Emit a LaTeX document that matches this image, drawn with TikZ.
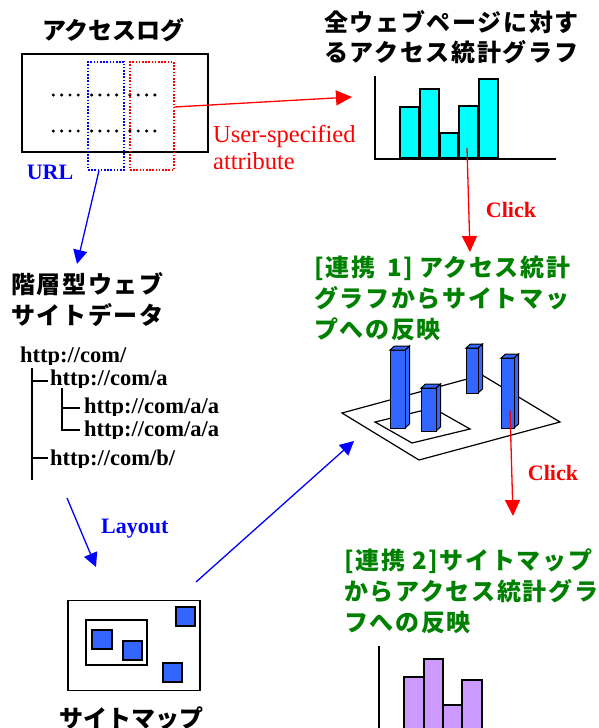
\documentclass[tikz,border=0pt]{standalone}
\usepackage{fontspec}
\usetikzlibrary{arrows.meta}
\setmainfont{Liberation Serif}
\newfontfamily\jpfont[LetterSpace=7]{Noto Sans CJK JP}
\newfontfamily\jpfontn[LetterSpace=0]{Noto Sans CJK JP}
\definecolor{myred}{RGB}{255,0,0}
\definecolor{myblue}{RGB}{0,0,255}
\definecolor{mygreen}{RGB}{0,128,0}
\definecolor{barcyan}{RGB}{0,255,255}
\definecolor{barblue}{RGB}{51,102,255}
\definecolor{barpurple}{RGB}{204,153,255}
\tikzset{
  jp/.style={font=\jpfont\bfseries\fontsize{24}{31}\selectfont, inner sep=0pt, anchor=base west},
  jpn/.style={font=\jpfontn\bfseries\fontsize{24}{31}\selectfont, inner sep=0pt, anchor=base},
  lat/.style={font=\bfseries\fontsize{22}{26}\selectfont, inner sep=0pt, anchor=base},
  attrtext/.style={font=\fontsize{24.5}{27}\selectfont, text=myred, inner sep=0pt, anchor=base west},
  urltext/.style={font=\bfseries\fontsize{22.5}{26}\selectfont, inner sep=0pt, anchor=base west},
  frame/.style={draw=black, line width=1.3pt, inner sep=0pt},
  redarrow/.style={draw=myred, line width=1.3pt, -{Triangle[length=16pt,width=15pt]}},
  bluearrow/.style={draw=myblue, line width=1.3pt, -{Triangle[length=14pt,width=14pt]}},
  histbar/.style={draw=black, line width=1.2pt},
  treeline/.style={draw=black, line width=1.3pt},
  sq/.style={draw=black, line width=1.2pt, fill=barblue},
  cubeface/.style={draw=black, line width=1pt, fill=barblue},
}
\newcommand\cubebar[5]{%
  \filldraw[cubeface] (#2,#3) -- (#2+4.5,#3-4) -- (#2+4.5,#4-4) -- (#2,#4) -- cycle;
  \filldraw[cubeface] (#1,#3) -- (#1+4.5,#3-4) -- (#2+4.5,#3-4) -- (#2,#3) -- cycle;
  \node[cubeface, inner sep=0pt, minimum width={(#2-#1)*1pt}, minimum height={(#4-#3)*1pt}] (#5) at ({(#1+#2)/2},{(#3+#4)/2}) {};
}
\begin{document}
\begin{tikzpicture}[x=1pt,y=-1pt]
\useasboundingbox (0,0) rectangle (599,728);
\clip (0,0) rectangle (599,728);

% ---------- access log ----------
\node[jpn] (logt) at (113.5,39) {アクセスログ};
\node[frame, minimum width=186pt, minimum height=98pt] (log) at (115,103) {};
\foreach \g in {0,1,2}{
  \foreach \d in {0,1,2,3}{
    \fill ({53.3+38.3*\g+8.33*\d},95) circle (1.7pt);
    \fill ({53.3+38.3*\g+8.33*\d},131) circle (1.7pt);
  }
}
\node[draw=myblue, line width=1.3pt, dash pattern=on 1.6pt off 1.6pt, inner sep=0pt,
      minimum width=36pt, minimum height=108pt] (urlcol) at (106,116) {};
\node[draw=myred, line width=1.3pt, dash pattern=on 1.6pt off 1.6pt, inner sep=0pt,
      minimum width=44pt, minimum height=108pt] (attr) at (152,116) {};
\node[lat, text=myblue] (urllbl) at (50,179) {URL};
\node[attrtext] (attr1) at (213,142) {User-specified};
\node[attrtext] (attr2) at (213,169) {attribute};

% ---------- histogram 1 ----------
\node[jp] (t1a) at (324,31.4) {全ウェブページに対す};
\node[jp] (t1b) at (324,61.4) {るアクセス統計グラフ};
\draw[histbar, fill=barcyan] (400,107) rectangle (419,158);
\draw[histbar, fill=barcyan] (420,89) rectangle (439,158);
\draw[histbar, fill=barcyan] (440,133) rectangle (458,158);
\draw[histbar, fill=barcyan] (459,106) rectangle (478,158);
\draw[histbar, fill=barcyan] (479,79) rectangle (498,158);
\draw[line width=1.3pt] (375,76) -- (375,159) -- (556,159);
\coordinate (h1in) at (352,97);
\draw[redarrow] ([yshift=9pt]attr.east) -- (h1in);

% ---------- click 1 ----------
\coordinate (c1s) at (467,148);
\coordinate (c1e) at (470,252);
\draw[redarrow] (c1s) -- (c1e);
\node[lat, text=myred] (click1) at (511,217) {Click};

% ---------- hierarchical web site data ----------
\coordinate (hierin) at (77,264);
\draw[bluearrow] ([xshift=-7pt]urlcol.south) -- (hierin);
\node[jp] (h1) at (11,293.4) {階層型ウェブ};
\node[jp] (h2) at (11,324.4) {サイトデータ};
\begin{scope}\clip (0,340) rectangle (300,364);
\node[urltext] (u1) at (20,362) {http://com/};\end{scope}
\begin{scope}\clip (0,366) rectangle (300,387.7);
\node[urltext] (u2) at (50,385.7) {http://com/a};\end{scope}
\begin{scope}\clip (0,392) rectangle (300,415);
\node[urltext] (u3) at (84,413) {http://com/a/a};\end{scope}
\begin{scope}\clip (0,416) rectangle (300,438.7);
\node[urltext] (u4) at (84,436.7) {http://com/a/a};\end{scope}
\begin{scope}\clip (0,444) rectangle (300,467);
\node[urltext] (u5) at (50,465) {http://com/b/};\end{scope}
\draw[treeline] (32,368) -- (32,480);
\draw[treeline] (32,381) -- (48,381);
\draw[treeline] (32,458) -- (48,458);
\draw[treeline] (62,388) -- (62,430) -- (80,430);
\draw[treeline] (62,408) -- (80,408);

% ---------- layout ----------
\coordinate (lays) at (67,498);
\coordinate (laye) at (96,567);
\draw[bluearrow] (lays) -- (laye);
\node[lat, text=myblue, anchor=base west] (layout) at (101,533) {Layout};

% ---------- site map ----------
\node[frame, minimum width=132pt, minimum height=90pt] (smap) at (134,645.5) {};
\node[draw=black, line width=1.1pt, inner sep=0pt, minimum width=61pt, minimum height=45pt] (grp) at (116.5,642.5) {};
\draw[sq] (92,630) rectangle (112,649);
\draw[sq] (123,641) rectangle (142,660);
\draw[sq] (176,607) rectangle (195,626);
\draw[sq] (163,663) rectangle (182,682);
\node[jpn] (smapt) at (131.5,727) {サイトマップ};

% ---------- link 1 : 3D map ----------
\node[jp, text=mygreen] (g1a) at (314,276.4) {[連携\hspace{12pt}1]\hspace{6pt}アクセス統計};
\node[jp, text=mygreen] (g1b) at (314,307.4) {グラフからサイトマッ};
\node[jp, text=mygreen] (g1c) at (314,338.4) {プへの反映};
\filldraw[draw=black, fill=white, line width=1.2pt] (342,413) -- (482,375) -- (560,422) -- (419,460) -- cycle;
\draw[black, line width=1.2pt] (375,422) -- (412,443) -- (470,429) -- (433,408) -- cycle;
\cubebar{466}{478}{348}{393}{bc}
\cubebar{390}{405}{350}{428}{ba}
\cubebar{421}{436}{388}{431}{bb}
\cubebar{501}{514}{358}{428}{bd}
\coordinate (mapin) at (354,441);
\coordinate (smapout) at (196,582);
\draw[bluearrow] (smapout) -- (mapin);

% ---------- click 2 ----------
\coordinate (c2s) at (510,410);
\coordinate (c2e) at (513,516);
\draw[redarrow] (c2s) -- (c2e);
\node[lat, text=myred] (click2) at (553,480) {Click};

% ---------- link 2 : histogram 2 ----------
\node[jp, text=mygreen] (g2a) at (344,569.4) {[連携 2]サイトマップ};
\node[jp, text=mygreen] (g2b) at (344,600.4) {からアクセス統計グラ};
\node[jp, text=mygreen] (g2c) at (344,631.4) {フへの反映};
\draw[histbar, fill=barpurple] (404,677) rectangle (424,740);
\draw[histbar, fill=barpurple] (424,659) rectangle (443,740);
\draw[histbar, fill=barpurple] (443,705) rectangle (462,740);
\draw[histbar, fill=barpurple] (462,680) rectangle (482,740);
\draw[line width=1.3pt] (379,646) -- (379,740);
\end{tikzpicture}
\end{document}
